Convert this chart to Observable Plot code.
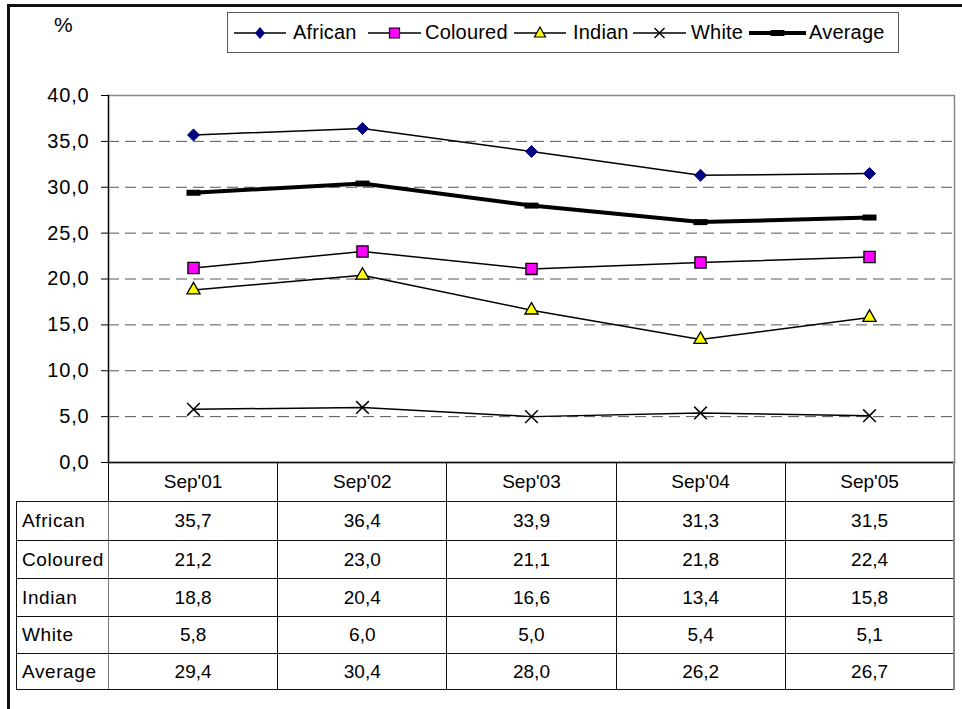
<!DOCTYPE html>
<html>
<head>
<meta charset="utf-8">
<script src="https://cdn.jsdelivr.net/npm/d3@7"></script>
<script src="https://cdn.jsdelivr.net/npm/@observablehq/plot@0.6"></script>
<style>
  html, body { margin: 0; padding: 0; background: #fff; overflow: hidden; }
  body { width: 962px; height: 709px; position: relative; font-family: "Liberation Sans", Arial, sans-serif; color: #000; }
  #outer { position: absolute; left: 7px; top: 4px; width: 1000px; height: 760px; border: 3px solid #111; box-sizing: border-box; }
  #chart { position: absolute; left: 0; top: 0; }
  #pct { position: absolute; left: 54px; top: 13px; font-size: 21px; }
  #legend { position: absolute; left: 227px; top: 12px; width: 672px; height: 41px; border: 1px solid #555; box-sizing: border-box; }
  .li { position: absolute; top: 0; height: 39px; }
  .lt { position: absolute; top: 8px; font-size: 20px; white-space: nowrap; letter-spacing: 0.2px; }
  #table { position: absolute; left: 16px; top: 462px; border-collapse: collapse; table-layout: fixed; font-size: 19px; }
  #table td { border: 1px solid #111; padding: 0; text-align: center; vertical-align: middle; }
  #table td.lab { text-align: left; padding-left: 5px; letter-spacing: 0.6px; border-right-color: #777; }
  #table td.last { border-right: 2px solid #888; }
  #table td.blank { border-top: hidden; border-left: hidden; }
  .ytl text { letter-spacing: 0.8px; }
</style>
</head>
<body>
<div id="outer"></div>
<div id="chart"></div>
<div id="pct">%</div>
<div id="legend"></div>
<table id="table"></table>
<script>
const categories = ["Sep'01", "Sep'02", "Sep'03", "Sep'04", "Sep'05"];
const seriesNames = ["African", "Coloured", "Indian", "White", "Average"];
const african  = [35.7, 36.4, 33.9, 31.3, 31.5];
const coloured = [21.2, 23.0, 21.1, 21.8, 22.4];
const indian   = [18.8, 20.4, 16.6, 13.4, 15.8];
const white    = [5.8, 6.0, 5.0, 5.4, 5.1];
const average  = [29.4, 30.4, 28.0, 26.2, 26.7];
const yTicks = [0, 5, 10, 15, 20, 25, 30, 35, 40];

const seriesValues = [african, coloured, indian, white, average];
const rows = seriesNames.flatMap((s, i) => categories.map((c, j) => ({series: s, period: c, value: seriesValues[i][j]})));
const bySeries = s => rows.filter(r => r.series === s);
const fmt = d => d.toFixed(1).replace(".", ",");

const dash = {draw(ctx) { ctx.rect(-7, -3, 14, 6); }};

const chart = Plot.plot({
  width: 962,
  height: 709,
  marginLeft: 108,
  marginRight: 8,
  marginTop: 95,
  marginBottom: 247,
  style: {fontFamily: "'Liberation Sans', Arial, sans-serif", color: "#000", background: "transparent", overflow: "visible"},
  x: {type: "point", domain: categories, padding: 0.5, axis: null},
  y: {domain: [0, 40], axis: null},
  marks: [
    Plot.gridY(yTicks.filter(t => t > 0 && t < 40), {stroke: "#555", strokeOpacity: 1, strokeDasharray: "11,6"}),
    Plot.frame({stroke: "#888", strokeWidth: 1.5}),
    Plot.frame({anchor: "left", stroke: "#000", strokeWidth: 1.3}),
    Plot.frame({anchor: "bottom", stroke: "#000", strokeWidth: 1.3}),
    Plot.axisY(yTicks, {tickSize: 7, tickPadding: 12, fontSize: 20, tickFormat: fmt, label: null, stroke: "#000", className: "ytl"}),
    Plot.line(rows.filter(r => r.series !== "Average"), {x: "period", y: "value", z: "series", stroke: "#000", strokeWidth: 1.5}),
    Plot.line(bySeries("Average"), {x: "period", y: "value", stroke: "#000", strokeWidth: 4}),
    Plot.dot(bySeries("Average"), {x: "period", y: "value", symbol: dash, fill: "#000", stroke: "none"}),
    Plot.dot(bySeries("African"), {x: "period", y: "value", symbol: "diamond2", r: 5.4, fill: "#000080", stroke: "#000080", strokeWidth: 1}),
    Plot.dot(bySeries("Coloured"), {x: "period", y: "value", symbol: "square", r: 6.3, fill: "#ff00ff", stroke: "#000", strokeWidth: 1.3}),
    Plot.dot(bySeries("Indian"), {x: "period", y: "value", symbol: "triangle", r: 4.9, fill: "#ffff00", stroke: "#000", strokeWidth: 1.3}),
    Plot.dot(bySeries("White"), {x: "period", y: "value", symbol: "times", r: 5.8, stroke: "#000", strokeWidth: 1.5})
  ]
});
document.getElementById("chart").appendChild(chart);

// Legend
const legendItems = [
  {name: "African",  lx: 6,   lw: 52, tx: 65},
  {name: "Coloured", lx: 140, lw: 53, tx: 197},
  {name: "Indian",   lx: 286, lw: 52, tx: 345},
  {name: "White",    lx: 405, lw: 53, tx: 463},
  {name: "Average",  lx: 521, lw: 57, tx: 581}
];
const legend = document.getElementById("legend");
const ns = "http://www.w3.org/2000/svg";
legendItems.forEach(it => {
  const svg = document.createElementNS(ns, "svg");
  svg.setAttribute("width", it.lw);
  svg.setAttribute("height", 39);
  svg.setAttribute("class", "li");
  svg.style.left = it.lx + "px";
  const cx = it.lw / 2, cy = 20;
  const line = document.createElementNS(ns, "line");
  line.setAttribute("x1", 0); line.setAttribute("x2", it.lw);
  line.setAttribute("y1", cy); line.setAttribute("y2", cy);
  line.setAttribute("stroke", "#000");
  line.setAttribute("stroke-width", it.name === "Average" ? 4 : 1.5);
  svg.appendChild(line);
  let m = document.createElementNS(ns, "path");
  if (it.name === "African") {
    m.setAttribute("d", `M${cx},${cy-6}L${cx+5},${cy}L${cx},${cy+6}L${cx-5},${cy}Z`);
    m.setAttribute("fill", "#000080");
  } else if (it.name === "Coloured") {
    m.setAttribute("d", `M${cx-5},${cy-5}h10v10h-10Z`);
    m.setAttribute("fill", "#ff00ff"); m.setAttribute("stroke", "#000"); m.setAttribute("stroke-width", 1.2);
  } else if (it.name === "Indian") {
    m.setAttribute("d", `M${cx},${cy-6}L${cx+5.5},${cy+4}L${cx-5.5},${cy+4}Z`);
    m.setAttribute("fill", "#ffff00"); m.setAttribute("stroke", "#000"); m.setAttribute("stroke-width", 1.2);
  } else if (it.name === "White") {
    m.setAttribute("d", `M${cx-5},${cy-5}L${cx+5},${cy+5}M${cx+5},${cy-5}L${cx-5},${cy+5}`);
    m.setAttribute("stroke", "#000"); m.setAttribute("stroke-width", 1.4);
  } else {
    m.setAttribute("d", `M${cx-7},${cy-3}h14v6h-14Z`);
    m.setAttribute("fill", "#000");
  }
  svg.appendChild(m);
  legend.appendChild(svg);
  const t = document.createElement("div");
  t.className = "lt";
  t.style.left = it.tx + "px";
  t.textContent = it.name;
  legend.appendChild(t);
});

// Data table
const table = document.getElementById("table");
const colgroup = document.createElement("colgroup");
[92, ...categories.map(() => 169.2)].forEach(w => {
  const col = document.createElement("col");
  col.style.width = w + "px";
  colgroup.appendChild(col);
});
table.appendChild(colgroup);
const rowHeights = [39, 39, 38, 38, 37, 36];
const head = document.createElement("tr");
head.style.height = rowHeights[0] + "px";
const blank = document.createElement("td");
blank.className = "blank";
head.appendChild(blank);
categories.forEach((c, j) => {
  const td = document.createElement("td");
  td.textContent = c;
  if (j === categories.length - 1) td.className = "last";
  head.appendChild(td);
});
table.appendChild(head);
seriesNames.forEach((s, i) => {
  const tr = document.createElement("tr");
  tr.style.height = rowHeights[i + 1] + "px";
  const lab = document.createElement("td");
  lab.className = "lab";
  lab.textContent = s;
  tr.appendChild(lab);
  seriesValues[i].forEach((v, j) => {
    const td = document.createElement("td");
    td.textContent = fmt(v);
    if (j === categories.length - 1) td.className = "last";
    tr.appendChild(td);
  });
  table.appendChild(tr);
});
</script>
</body>
</html>
